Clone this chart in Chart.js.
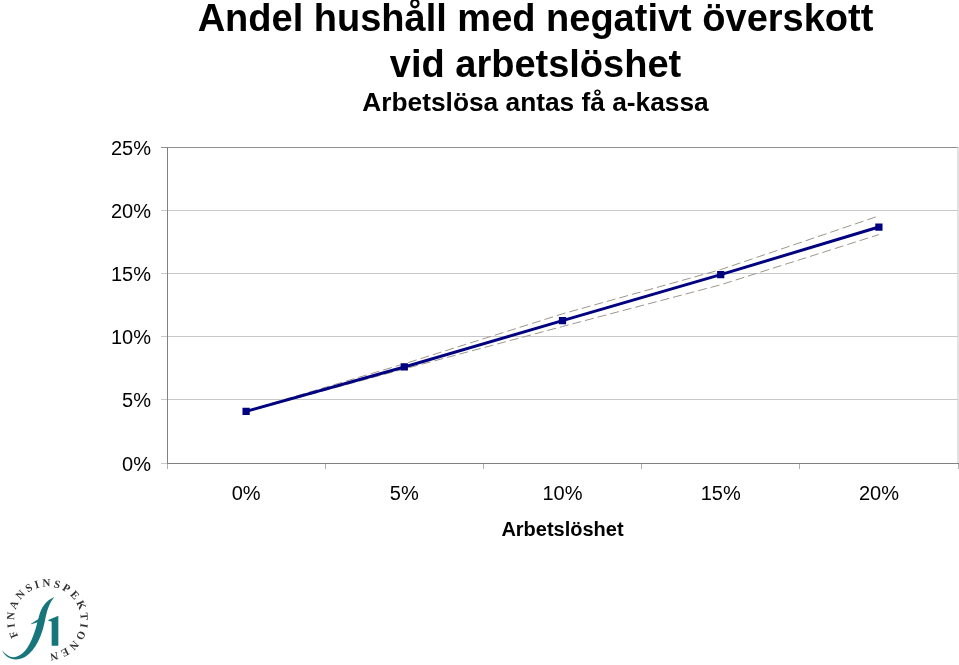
<!DOCTYPE html>
<html>
<head>
<meta charset="utf-8">
<title>Andel hushåll med negativt överskott</title>
<script src="https://cdn.jsdelivr.net/npm/chart.js@4"></script>
<style>
  html, body { margin: 0; padding: 0; background: #fff; overflow: hidden; }
  body { width: 959px; height: 665px; position: relative; overflow: hidden; font-family: "Liberation Sans", Arial, sans-serif; }
  #chart { position: absolute; left: 0; top: 0; }
  .head { position: absolute; left: 0; width: 1071px; text-align: center; font-weight: bold; color: #000; white-space: nowrap; }
  #logo { position: absolute; left: -1px; top: 573px; }
</style>
</head>
<body>
<canvas id="chart" width="965" height="665"></canvas>
<div class="head" style="top:-3px;font-size:38px;line-height:42px">Andel hushåll med negativt överskott</div>
<div class="head" style="top:43px;font-size:38px;line-height:42px">vid arbetslöshet</div>
<div class="head" style="top:87px;font-size:26.3px;line-height:30px">Arbetslösa antas få a-kassa</div>

<svg id="logo" width="100" height="95" viewBox="0 0 300 285">
  <defs><path id="ring" d="M 58 189 A 100 100 0 1 1 135 240"/></defs>
  <text font-family="Liberation Serif, serif" font-size="33" font-weight="bold" fill="#333">
    <textPath href="#ring" textLength="515">FINANSINSPEKTIONEN</textPath>
  </text>
  <path fill="#17757c" d="M 10 232 C 30 262 62 258 84 226 C 104 196 112 160 120 130 C 128 100 142 82 166 72 C 150 92 144 112 138 142 C 130 184 112 232 78 252 C 52 266 20 260 10 232 Z"/>
  <path fill="#17757c" d="M 96 152 L 122 136 L 122 146 L 96 154 Z"/>
  <path fill="#17757c" d="M 146 142 L 178 128 L 178 218 L 158 218 L 158 146 Z"/>
</svg>

<script>
const categories = ['0%', '5%', '10%', '15%', '20%'];
const central = [4.08, 7.6, 11.26, 14.9, 18.67];
const upper = [4.12, 7.85, 11.8, 15.3, 19.55];
const lower = [4.05, 7.44, 10.8, 14.1, 18.07];
const yTicks = [0, 5, 10, 15, 20, 25];

const dashed = {
  borderColor: '#9c968c',
  borderWidth: 1,
  borderDash: [9, 4],
  pointRadius: 0,
  tension: 0
};

// right edge of the plot frame
const rightEdge = {
  id: 'rightEdge',
  afterDraw(chart) {
    const { ctx, chartArea } = chart;
    ctx.save();
    ctx.strokeStyle = '#c4c4c4';
    ctx.lineWidth = 1;
    ctx.beginPath();
    ctx.moveTo(chartArea.right, chartArea.top);
    ctx.lineTo(chartArea.right, chartArea.bottom);
    ctx.stroke();
    ctx.restore();
  }
};

const tickFont = { family: '"Liberation Sans", Arial, sans-serif', size: 20 };

new Chart(document.getElementById('chart').getContext('2d'), {
  type: 'line',
  data: {
    labels: categories,
    datasets: [
      {
        label: 'Arbetslösa',
        data: central,
        borderColor: '#000080',
        backgroundColor: '#000080',
        borderWidth: 3,
        pointStyle: 'rect',
        pointRadius: 3,
        tension: 0
      },
      Object.assign({ label: 'Övre', data: upper }, dashed),
      Object.assign({ label: 'Undre', data: lower }, dashed)
    ]
  },
  options: {
    responsive: false,
    animation: false,
    layout: { padding: { top: 147, right: 1, bottom: 119, left: 0 } },
    plugins: {
      legend: { display: false },
      title: { display: false },
      tooltip: { enabled: false }
    },
    scales: {
      x: {
        type: 'category',
        offset: true,
        afterFit: scale => { scale.height = 83; },
        grid: { offset: true, drawOnChartArea: false, tickLength: 6, color: '#b0b0b0' },
        border: { color: '#808080', width: 1 },
        ticks: { color: '#000', font: tickFont, padding: 13, maxRotation: 0 },
        title: {
          display: true,
          text: 'Arbetslöshet',
          color: '#000',
          font: { family: tickFont.family, size: 20, weight: 'bold' },
          padding: { top: 10 }
        }
      },
      y: {
        min: 0,
        max: 25,
        afterFit: scale => { scale.width = 167; },
        afterBuildTicks: scale => { scale.ticks = yTicks.map(value => ({ value })); },
        grid: {
          tickLength: 6,
          color: ctx => (ctx.tick && ctx.tick.value === 25 ? '#909090' : '#c8c8c8')
        },
        border: { color: '#808080', width: 1 },
        ticks: { color: '#000', font: tickFont, padding: 10, labelOffset: 2, callback: v => v + '%' }
      }
    }
  },
  plugins: [rightEdge]
});
</script>
</body>
</html>
